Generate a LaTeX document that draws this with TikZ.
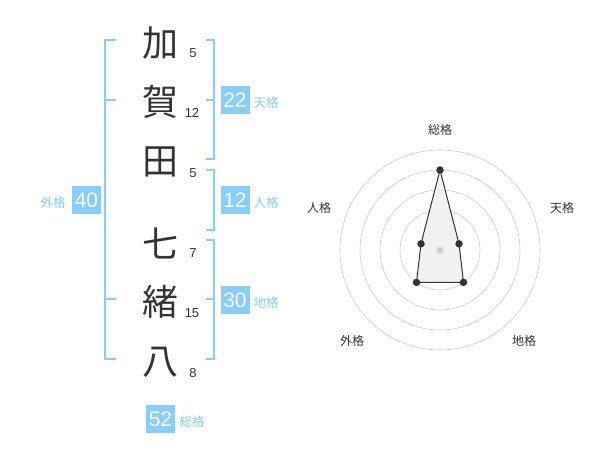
\documentclass[tikz,border=0pt]{standalone}
\usepackage{fontspec}
\setmainfont{Liberation Sans}
\newfontfamily\cjk{Noto Sans CJK JP}
\definecolor{sky}{HTML}{87CEFA}
\definecolor{ink}{HTML}{333333}
\definecolor{ring}{HTML}{CCCCCC}
\tikzset{
  kanji/.style={font=\cjk\fontsize{36}{36}\selectfont, text=ink, inner sep=0pt},
  strokes/.style={font=\fontsize{13}{13}\selectfont, text=ink, inner sep=0pt},
  valbox/.style={fill=sky, text=white, font=\fontsize{21}{21}\selectfont, minimum width=29pt, minimum height=28pt, inner sep=0pt},
  kaku/.style={font=\cjk\fontsize{12.5}{12.5}\selectfont, text=sky, inner sep=0pt},
  radlabel/.style={font=\cjk\fontsize{12}{12}\selectfont, text=ink, inner sep=0pt},
  brk/.style={draw=sky, line width=2pt},
  dot/.style={circle, fill=ink, inner sep=0pt, minimum size=7.5pt},
}
\begin{document}
\begin{tikzpicture}[x=1pt,y=-1pt]
\useasboundingbox (0,0) rectangle (600,470);
% characters
\node[kanji] (c1) at (160,43) {加};
\node[kanji] (c2) at (160,102) {賀};
\node[kanji] (c3) at (160,162) {田};
\node[kanji] (c4) at (160,243) {七};
\node[kanji] (c5) at (160,302) {緒};
\node[kanji] (c6) at (160,362) {八};
\node[strokes] (s1) at (193,53) {5};
\node[strokes] (s2) at (192,113) {12};
\node[strokes] (s3) at (193,173) {5};
\node[strokes] (s4) at (193,253) {7};
\node[strokes] (s5) at (192,313) {15};
\node[strokes] (s6) at (193,373) {8};
% brackets
\draw[brk] (116,40) -- (105,40) -- (105,359) -- (116,359);
\draw[brk] (105,100) -- (116,100);
\draw[brk] (105,299) -- (116,299);
\draw[brk] (206,40) -- (214,40) -- (214,159) -- (206,159);
\draw[brk] (206,100) -- (214,100);
\draw[brk] (206,170) -- (214,170) -- (214,230) -- (206,230);
\draw[brk] (206,240) -- (214,240) -- (214,359) -- (206,359);
\draw[brk] (206,299) -- (214,299);
% value boxes
\node[valbox] (gai) at (86.5,200) {40};
\node[kaku] (gail) at (53,203) {外格};
\node[valbox] (ten) at (235,100) {22};
\node[kaku] (tenl) at (266,103) {天格};
\node[valbox] (jin) at (235,200) {12};
\node[kaku] (jinl) at (266,203) {人格};
\node[valbox] (chi) at (235,300) {30};
\node[kaku] (chil) at (266,303) {地格};
\node[valbox] (sou) at (160.5,419) {52};
\node[kaku] (soul) at (192,422) {総格};
% radar
\coordinate (o) at (440,250);
\foreach \r in {20,40,60,80,100} \draw[ring, line width=0.6pt] (o) circle[radius=\r];
\coordinate (p1) at (440,170);
\coordinate (p2) at (459.0,243.8);
\coordinate (p3) at (463.5,282.4);
\coordinate (p4) at (416.5,282.4);
\coordinate (p5) at (421.0,243.8);
\fill[black!6, opacity=0.9] (p1) -- (p2) -- (p3) -- (p4) -- (p5) -- cycle;
\draw[ink, line width=1pt] (p1) -- (p2) -- (p3) -- (p4) -- (p5) -- cycle;
\fill[ring] (o) circle[radius=3.5];
\foreach \p in {p1,p2,p3,p4,p5} \node[dot] at (\p) {};
\node[radlabel] (r1) at (440,130) {総格};
\node[radlabel] (r2) at (562,208) {天格};
\node[radlabel] (r3) at (524,341) {地格};
\node[radlabel] (r4) at (352,341) {外格};
\node[radlabel] (r5) at (319,208) {人格};
\end{tikzpicture}
\end{document}
